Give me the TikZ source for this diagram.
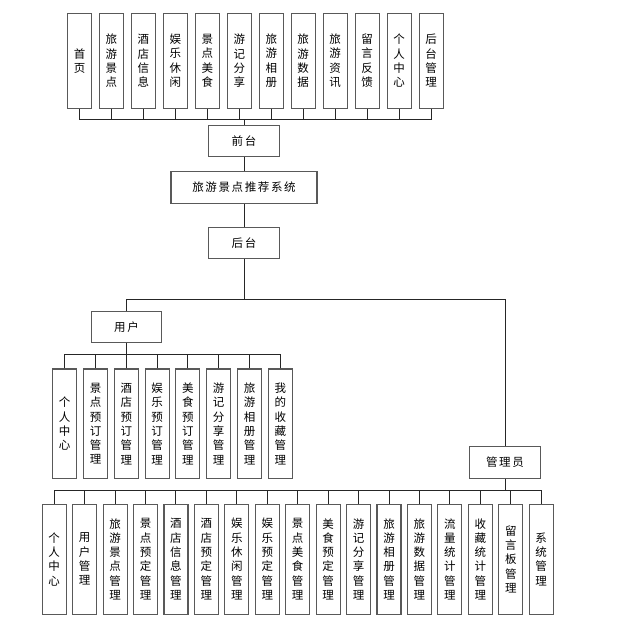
\documentclass[tikz,border=0pt]{standalone}
\usepackage{fontspec}
\setmainfont{Noto Sans CJK SC}
\newfontfamily\widecjk[LetterSpace=14]{Noto Sans CJK SC}
\usetikzlibrary{calc}

\tikzset{
  box/.style={draw=black!65, line width=1.1pt, fill=white, inner sep=0pt, align=center},
  hbox/.style={box, minimum height=31.6pt, font=\widecjk\fontsize{11.5}{12}\selectfont},
  vbox/.style={box, minimum width=24pt, font=\fontsize{11.5}{14.3}\selectfont},
  link/.style={draw=black!85, line width=1pt}
}

\begin{document}
\begin{tikzpicture}[x=1pt, y=-1pt]
        \useasboundingbox (0,0) rectangle (621,621);

        % front pages
        \foreach \t [count=\i from 0] in {首\\页, 旅\\游\\景\\点, 酒\\店\\信\\息, 娱\\乐\\休\\闲,
            景\\点\\美\\食, 游\\记\\分\\享, 旅\\游\\相\\册, 旅\\游\\数\\据, 旅\\游\\资\\讯,
            留\\言\\反\\馈, 个\\人\\中\\心, 后\\台\\管\\理}
            \node[vbox, minimum height=95pt] (t\i) at ({79.5+31.96*\i},60.8) {\t};

        \node[hbox, minimum width=70.6pt] (front) at (244,141) {前台};
        \node[hbox, minimum width=146pt] (sys) at (244,187.5) {旅游景点推荐系统};
        \node[hbox, minimum width=70.6pt] (back) at (244,243) {后台};
        \node[hbox, minimum width=70.4pt] (user) at (126.5,327) {用户};
        \node[hbox, minimum width=70.6pt] (admin) at (505,462.5) {管理员};

        \coordinate (tbus) at (244,119.3);
        \coordinate (split) at (244,299.3);
        \coordinate (ubus) at (126.5,354.5);
        \coordinate (abus) at (505,490);

        % user pages
        \foreach \t [count=\i from 0] in {个\\人\\中\\心, 景\\点\\预\\订\\管\\理, 酒\\店\\预\\订\\管\\理,
            娱\\乐\\预\\订\\管\\理, 美\\食\\预\\订\\管\\理, 游\\记\\分\\享\\管\\理,
            旅\\游\\相\\册\\管\\理, 我\\的\\收\\藏\\管\\理}
            \node[vbox, minimum height=109.7pt] (u\i) at ({64.7+30.8*\i},423.8) {\t};

        % admin pages
        \foreach \t [count=\i from 0] in {个\\人\\中\\心, 用\\户\\管\\理, 旅\\游\\景\\点\\管\\理,
            景\\点\\预\\定\\管\\理, 酒\\店\\信\\息\\管\\理, 酒\\店\\预\\定\\管\\理,
            娱\\乐\\休\\闲\\管\\理, 娱\\乐\\预\\定\\管\\理, 景\\点\\美\\食\\管\\理,
            美\\食\\预\\定\\管\\理, 游\\记\\分\\享\\管\\理, 旅\\游\\相\\册\\管\\理,
            旅\\游\\数\\据\\管\\理, 流\\量\\统\\计\\管\\理, 收\\藏\\统\\计\\管\\理,
            留\\言\\板\\管\\理, 系\\统\\管\\理}
            \node[vbox, minimum height=109.7pt] (a\i) at ({54.2+30.44*\i},559.2) {\t};

        % connectors
        \foreach \i in {0,...,11} \draw[link] (t\i.south) |- (tbus);
        \draw[link] (tbus) -- (front.north);
        \draw[link] (front) -- (sys);
        \draw[link] (sys) -- (back);
        \draw[link] (back) -- (split);
        \draw[link] (split) -| (user.north);
        \draw[link] (split) -| (admin.north);
        \draw[link] (user) -- (ubus);
        \foreach \i in {0,...,7} \draw[link] (u\i.north) |- (ubus);
        \draw[link] (admin) -- (abus);
        \foreach \i in {0,...,16} \draw[link] (a\i.north) |- (abus);
\end{tikzpicture}
\end{document}
